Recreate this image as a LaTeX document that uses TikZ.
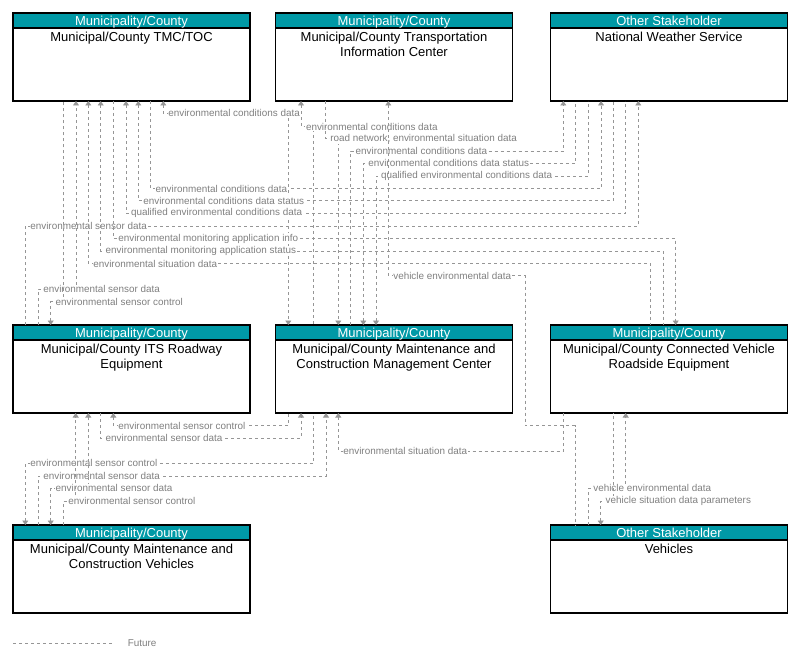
\documentclass[tikz,border=0pt]{standalone}
\usepackage{fontspec}
\setmainfont{Liberation Sans}
\usetikzlibrary{arrows.meta,positioning}

\definecolor{hdrteal}{RGB}{0,153,166}
\definecolor{flowgray}{RGB}{150,150,150}
\definecolor{lblgray}{RGB}{128,128,128}

\begin{document}
\begin{tikzpicture}[x=1pt, y=-1pt, >={Triangle[width=6pt,length=4.5pt]},
  box/.style={draw=black, line width=1.2pt, minimum width=\boxW, minimum height=\boxH,
    inner sep=0pt, outer sep=0pt, anchor=north west},
  hdr/.style={draw=black, line width=1.2pt, fill=hdrteal, text=white, minimum width=\boxW,
    minimum height=15pt, inner sep=0pt, outer sep=0pt, text height=9.5pt, text depth=0pt,
    font=\fontsize{13}{15}\selectfont},
  ttl/.style={align=center, inner sep=0pt, font=\fontsize{13}{15}\selectfont},
  flow/.style={draw=flowgray, line width=0.8pt, dash pattern=on 3pt off 3pt},
  lbl/.style={anchor=west, fill=white, inner sep=0.6pt, xshift=4pt, text=lblgray,
    font=\fontsize{9.9}{10}\selectfont}]

  % Parameters
  \def\boxW{237pt}   % box width
  \def\boxH{88pt}    % box height

  \useasboundingbox (0,0) rectangle (799,663);

  % Top row
  \node[box] (tmc) at (13,13) {};
  \node[hdr, below=0pt of tmc.north] (tmchdr) {Municipality/County};
  \node[ttl, below=4pt of tmchdr] (tmcttl) {Municipal/County TMC/TOC};

  \node[box] (tic) at (275.5,13) {};
  \node[hdr, below=0pt of tic.north] (tichdr) {Municipality/County};
  \node[ttl, below=4pt of tichdr] (ticttl) {Municipal/County Transportation\\Information Center};

  \node[box] (nws) at (550.5,13) {};
  \node[hdr, below=0pt of nws.north] (nwshdr) {Other Stakeholder};
  \node[ttl, below=4pt of nwshdr] (nwsttl) {National Weather Service};

  % Middle row
  \node[box] (its) at (13,325) {};
  \node[hdr, below=0pt of its.north] (itshdr) {Municipality/County};
  \node[ttl, below=4pt of itshdr] (itsttl) {Municipal/County ITS Roadway\\Equipment};

  \node[box] (mcmc) at (275.5,325) {};
  \node[hdr, below=0pt of mcmc.north] (mcmchdr) {Municipality/County};
  \node[ttl, below=4pt of mcmchdr] (mcmcttl) {Municipal/County Maintenance and\\Construction Management Center};

  \node[box] (cvre) at (550.5,325) {};
  \node[hdr, below=0pt of cvre.north] (cvrehdr) {Municipality/County};
  \node[ttl, below=4pt of cvrehdr] (cvrettl) {Municipal/County Connected Vehicle\\Roadside Equipment};

  % Bottom row
  \node[box] (mcv) at (13,525) {};
  \node[hdr, below=0pt of mcv.north] (mcvhdr) {Municipality/County};
  \node[ttl, below=4pt of mcvhdr] (mcvttl) {Municipal/County Maintenance and\\Construction Vehicles};

  \node[box] (veh) at (550.5,525) {};
  \node[hdr, below=0pt of veh.north] (vehhdr) {Other Stakeholder};
  \node[ttl, below=4pt of vehhdr] (vehttl) {Vehicles};

  % Flows between top row and middle row
  \draw[flow, <->] (tmc.south -| 163.3,0) |- node[lbl] {environmental conditions data} (288.3,113.3) -- (mcmc.north -| 288.3,0);
  \draw[flow, <-] (tic.south -| 301,0) |- node[lbl] {environmental conditions data} (313.3,126.7) -- (mcmc.north -| 313.3,0);
  \draw[flow, ->] (tic.south -| 325.3,0) |- node[lbl] {road network, environmental situation data} (338.3,138.7) -- (mcmc.north -| 338.3,0);
  \draw[flow, ->] (mcmc.north -| 350.7,0) |- node[lbl] {environmental conditions data} (563.3,151) -- (nws.south -| 563.3,0);
  \draw[flow, <-] (mcmc.north -| 363.3,0) |- node[lbl] {environmental conditions data status} (575.3,163.3) -- (nws.south -| 575.3,0);
  \draw[flow, <-] (mcmc.north -| 376,0) |- node[lbl] {qualified environmental conditions data} (588.3,176) -- (nws.south -| 588.3,0);
  \draw[flow, ->] (tmc.south -| 150.7,0) |- node[lbl] {environmental conditions data} (601,188.7) -- (nws.south -| 601,0);
  \draw[flow, <-] (tmc.south -| 138.3,0) |- node[lbl] {environmental conditions data status} (613.3,200.7) -- (nws.south -| 613.3,0);
  \draw[flow, <-] (tmc.south -| 126,0) |- node[lbl] {qualified environmental conditions data} (625.7,213.3) -- (nws.south -| 625.7,0);
  \draw[flow, ->] (its.north -| 25.3,0) |- node[lbl] {environmental sensor data} (638.3,226) -- (nws.south -| 638.3,0);
  \draw[flow, ->] (tmc.south -| 113.3,0) |- node[lbl] {environmental monitoring application info} (675.7,238.5) -- (cvre.north -| 675.7,0);
  \draw[flow, <-] (tmc.south -| 100.7,0) |- node[lbl] {environmental monitoring application status} (663.3,251) -- (cvre.north -| 663.3,0);
  \draw[flow, <-] (tmc.south -| 88.3,0) |- node[lbl] {environmental situation data} (650.7,263.5) -- (cvre.north -| 650.7,0);
  \draw[flow, <-] (tic.south -| 388.3,0) |- node[lbl] {vehicle environmental data} (525,275.5) |- (575,425.5) -- (veh.north -| 575,0);
  \draw[flow, ->] (its.north -| 38.3,0) |- node[lbl] {environmental sensor data} (76,289) -- (tmc.south -| 76,0);
  \draw[flow, <-] (its.north -| 50.7,0) |- node[lbl] {environmental sensor control} (63.3,301.5) -- (tmc.south -| 63.3,0);

  % Flows between middle row and bottom row
  \draw[flow, <-] (its.south -| 113.3,0) |- node[lbl] {environmental sensor control} (288.3,425.5) -- (mcmc.south -| 288.3,0);
  \draw[flow, ->] (its.south -| 100.7,0) |- node[lbl] {environmental sensor data} (301,438.3) -- (mcmc.south -| 301,0);
  \draw[flow, <-] (mcmc.south -| 338.3,0) |- node[lbl] {environmental situation data} (563.3,451) -- (cvre.south -| 563.3,0);
  \draw[flow, <-] (mcv.north -| 25.3,0) |- node[lbl] {environmental sensor control} (313.3,463.3) -- (mcmc.south -| 313.3,0);
  \draw[flow, ->] (mcv.north -| 38.3,0) |- node[lbl] {environmental sensor data} (326,476) -- (mcmc.south -| 326,0);
  \draw[flow, <->] (mcv.north -| 50.7,0) |- node[lbl] {environmental sensor data} (88.3,488.3) -- (its.south -| 88.3,0);
  \draw[flow, ->] (mcv.north -| 63.3,0) |- node[lbl] {environmental sensor control} (75.7,501.3) -- (its.south -| 75.7,0);
  \draw[flow, ->] (veh.north -| 588.3,0) |- node[lbl] {vehicle environmental data} (625.7,488.3) -- (cvre.south -| 625.7,0);
  \draw[flow, <-] (veh.north -| 600.7,0) |- node[lbl] {vehicle situation data parameters} (613.3,501.3) -- (cvre.south -| 613.3,0);

  % Legend
  \coordinate (legL) at (13,643.5);
  \coordinate (legR) at (112,643.5);
  \draw[flow] (legL) -- (legR);
  \node[lbl, xshift=11pt] (legtxt) at (legR) {Future};

\end{tikzpicture}
\end{document}
